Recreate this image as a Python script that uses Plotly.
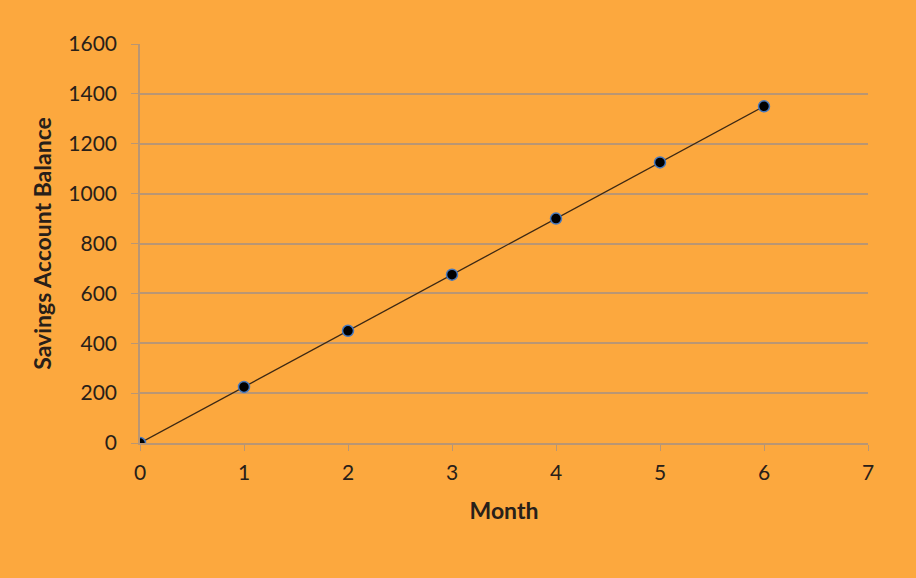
import plotly.graph_objects as go

month = [0, 1, 2, 3, 4, 5, 6]
balance = [0, 225, 450, 675, 900, 1125, 1350]

bg = 'rgb(252,168,62)'
grid = 'rgb(185,150,115)'

fig = go.Figure()
fig.add_trace(go.Scatter(
    x=month, y=balance,
    mode='lines+markers',
    line=dict(color='rgb(60,40,20)', width=1.3),
    marker=dict(color='black', size=11, line=dict(color='rgb(70,120,190)', width=1.5)),
    showlegend=False,
))

fig.update_layout(
    width=916, height=578,
    paper_bgcolor=bg, plot_bgcolor=bg,
    margin=dict(l=140, r=48, t=44, b=135),
    font=dict(family='Lato, Open Sans, sans-serif', size=21, color='rgb(40,32,25)'),
)
fig.update_xaxes(
    range=[0, 7], dtick=1, showgrid=False, zeroline=False,
    showline=True, linecolor=grid, linewidth=1.5,
    ticks='outside', ticklen=6, tickcolor=grid, ticklabelstandoff=4,
    title=dict(text='<b>Month</b>', font=dict(size=23), standoff=20),
)
fig.update_yaxes(
    range=[0, 1600], dtick=200, showgrid=True, gridcolor=grid, gridwidth=1.6,
    zeroline=False, showline=True, linecolor=grid, linewidth=1.5,
    ticks='outside', ticklen=7, tickcolor=grid, ticklabelstandoff=10,
    title=dict(text='<b>Savings Account Balance</b>', font=dict(size=23), standoff=10),
)

fig.write_html('out.html', config={'displayModeBar': False},
               post_script="document.body.style.margin='0';document.body.style.background='rgb(252,168,62)';")
